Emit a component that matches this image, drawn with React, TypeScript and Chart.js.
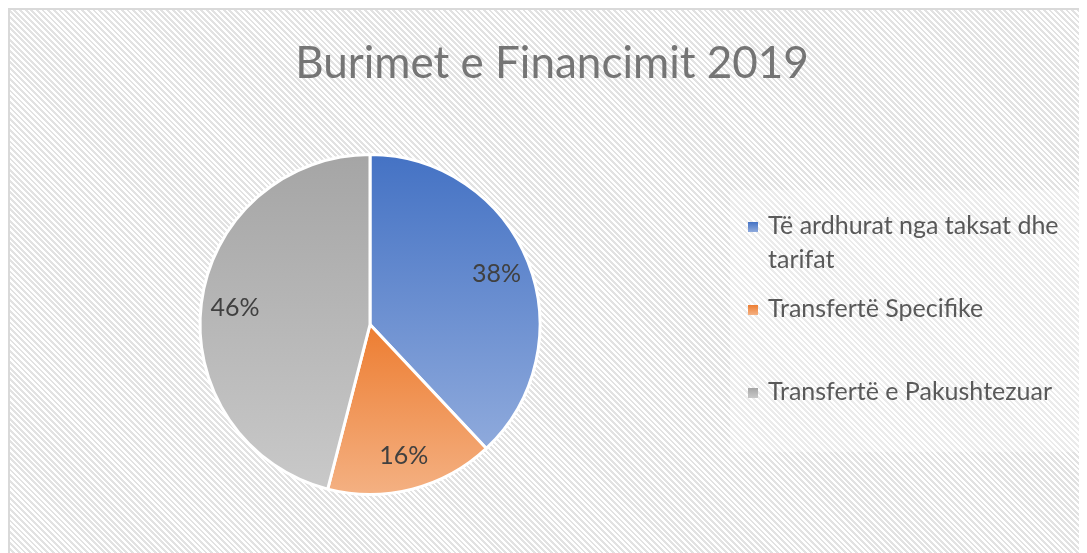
import React, { useEffect, useRef } from "react";
import { Chart, registerables } from "chart.js";

Chart.register(...registerables);

const TITLE = "Burimet e Financimit 2019";
const categories = ["Të ardhurat nga taksat dhe tarifat", "Transfertë Specifike", "Transfertë e Pakushtezuar"];
const legendLines = [["Të ardhurat nga taksat dhe", "tarifat"], ["Transfertë Specifike"], ["Transfertë e Pakushtezuar"]];
const values = [38, 16, 46];
const topColors = ["#4472C4", "#ED7D31", "#A5A5A5"];
const bottomColors = ["#8FAADC", "#F4B183", "#C9C9C9"];

const FONT = "Lato, 'Open Sans', sans-serif";

function sliceGradient(ctx: any) {
  const i = ctx.dataIndex;
  const chart = ctx.chart;
  const area = chart.chartArea;
  if (!area || i === undefined) return topColors[i ?? 0];
  const cx = (area.left + area.right) / 2;
  const cy = (area.top + area.bottom) / 2;
  const r = Math.min(area.right - area.left, area.bottom - area.top) / 2;
  const total = values.reduce((a, b) => a + b, 0);
  let acc = 0;
  for (let k = 0; k < i; k++) acc += values[k];
  const s = -Math.PI / 2 + (acc / total) * Math.PI * 2;
  const e = s + (values[i] / total) * Math.PI * 2;
  const ys = [cy, cy + r * Math.sin(s), cy + r * Math.sin(e)];
  for (const a of [-Math.PI / 2, Math.PI / 2, (3 * Math.PI) / 2]) {
    if (a >= s && a <= e) ys.push(cy + r * Math.sin(a));
  }
  const minY = Math.min(...ys);
  const maxY = Math.max(...ys);
  const g = chart.ctx.createLinearGradient(0, minY, 0, maxY);
  g.addColorStop(0, topColors[i]);
  g.addColorStop(1, bottomColors[i]);
  return g;
}

const decorPlugin = {
  id: "decor",
  beforeDraw(chart: any) {
    const c = chart.ctx;
    c.save();
    c.fillStyle = "rgba(255,255,255,0.3)";
    c.fillRect(720, 180, 357, 262);
    c.fillStyle = "#757575";
    c.font = `44px ${FONT}`;
    c.textAlign = "center";
    c.textBaseline = "alphabetic";
    c.fillText(TITLE, 542, 68);
    c.restore();
  },
  afterDatasetsDraw(chart: any) {
    const c = chart.ctx;
    const meta = chart.getDatasetMeta(0);
    const data = chart.data.datasets[0].data as number[];
    const total = data.reduce((a, b) => a + b, 0);
    c.save();
    c.fillStyle = "#404040";
    c.font = `25px ${FONT}`;
    c.textAlign = "center";
    c.textBaseline = "middle";
    meta.data.forEach((arc: any, i: number) => {
      const { x, y, startAngle, endAngle, outerRadius } = arc.getProps(["x", "y", "startAngle", "endAngle", "outerRadius"], true);
      const mid = (startAngle + endAngle) / 2;
      const rr = outerRadius * 0.8;
      c.fillText(Math.round((data[i] / total) * 100) + "%", x + rr * Math.cos(mid), y + rr * Math.sin(mid));
    });
    // legend
    c.textAlign = "left";
    c.font = `25px ${FONT}`;
    const itemY = [216, 299, 382];
    legendLines.forEach((lines, i) => {
      const gy = itemY[i] + 1;
      const g = c.createLinearGradient(0, gy - 5, 0, gy + 5);
      g.addColorStop(0, topColors[i]);
      g.addColorStop(1, bottomColors[i]);
      c.fillStyle = g;
      c.fillRect(738, gy - 5, 10, 10);
      c.fillStyle = "#595959";
      lines.forEach((t, j) => c.fillText(t, 758, itemY[i] + j * 34));
    });
    c.restore();
  },
};

export default function App() {
  const ref = useRef<HTMLCanvasElement>(null);
  useEffect(() => {
    if (!ref.current) return;
    const chart = new Chart(ref.current, {
      type: "pie",
      data: {
        labels: categories,
        datasets: [
          {
            data: values,
            backgroundColor: sliceGradient as any,
            borderColor: "#ffffff",
            borderWidth: 3,
          },
        ],
      },
      options: {
        responsive: false,
        animation: false,
        layout: { padding: { top: 142.5, left: 188.5, right: 545.5, bottom: 56.5 } },
        plugins: {
          legend: { display: false },
          title: { display: false },
          tooltip: { enabled: false },
        },
      },
      plugins: [decorPlugin],
    });
    return () => chart.destroy();
  }, []);
  return (
    <div
      style={{
        position: "relative",
        width: 1079,
        height: 545,
        boxSizing: "border-box",
        borderTop: "2px solid #d9d9d9",
        borderLeft: "2px solid #d9d9d9",
        background:
          "repeating-linear-gradient(45deg, #ffffff 0px, #ffffff 2px, #e2e2e2 2px, #e2e2e2 4px)",
        overflow: "hidden",
      }}
    >
      <canvas ref={ref} width={1077} height={543} style={{ display: "block", width: 1077, height: 543 }} />
    </div>
  );
}
